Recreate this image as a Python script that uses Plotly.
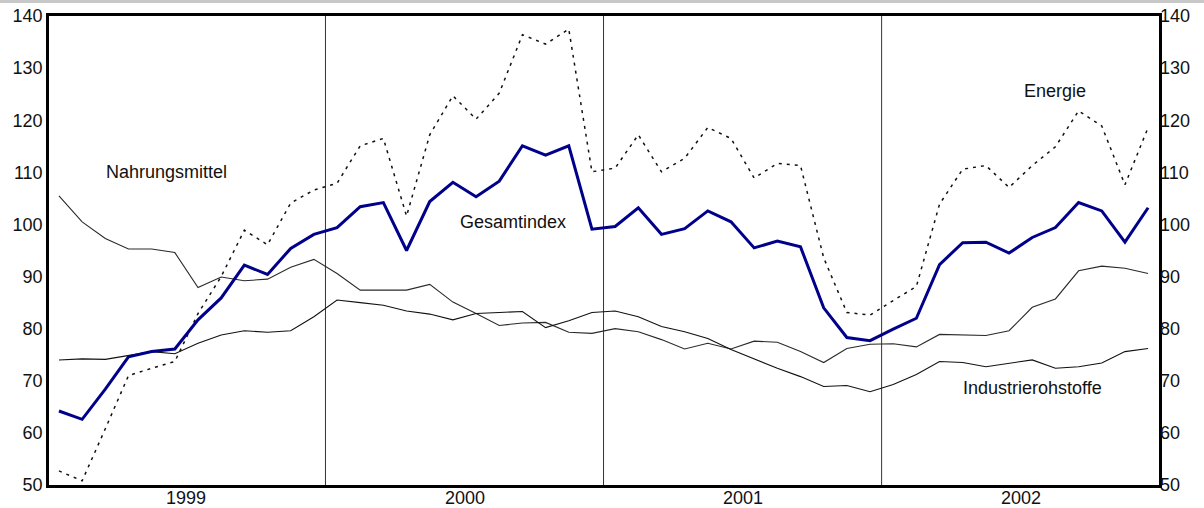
import plotly.graph_objects as go

months = list(range(48))  # Jan 1999 .. Dec 2002, monthly index

gesamtindex = [64.2, 62.6, 68.4, 74.6, 75.6, 76.1, 81.7, 85.9, 92.2, 90.4, 95.4, 98.1,
               99.4, 103.4, 104.2, 95.0, 104.4, 108.1, 105.3, 108.3, 115.1, 113.3, 115.1, 99.1,
               99.6, 103.2, 98.1, 99.2, 102.6, 100.5, 95.5, 96.8, 95.7, 84.0, 78.3, 77.7,
               79.9, 82.0, 92.3, 96.5, 96.6, 94.5, 97.5, 99.4, 104.2, 102.6, 96.6, 103.2]

energie = [52.7, 50.8, 60.8, 71.0, 72.4, 73.7, 82.9, 90.0, 98.9, 96.1, 104.1, 106.6,
           107.9, 115.1, 116.5, 101.6, 117.2, 124.7, 120.2, 125.2, 136.4, 134.6, 137.5, 110.1,
           110.8, 117.2, 110.1, 112.7, 118.6, 116.5, 108.9, 111.7, 111.3, 93.6, 83.1, 82.6,
           85.4, 88.1, 103.9, 110.6, 111.3, 107.1, 111.3, 114.9, 121.8, 118.9, 107.6, 118.6]

nahrungsmittel = [105.5, 100.5, 97.3, 95.3, 95.3, 94.6, 87.9, 89.9, 89.2, 89.5, 91.8, 93.3,
                  90.6, 87.4, 87.4, 87.4, 88.5, 85.1, 82.9, 80.6, 81.1, 81.2, 79.3, 79.1,
                  80.0, 79.4, 77.9, 76.1, 77.2, 76.1, 77.6, 77.4, 75.6, 73.5, 76.2, 77.0,
                  77.1, 76.5, 78.9, 78.8, 78.7, 79.6, 84.1, 85.7, 91.1, 92.0, 91.6, 90.6]

industrierohstoffe = [74.0, 74.2, 74.1, 74.8, 75.6, 75.2, 77.2, 78.8, 79.6, 79.3, 79.6, 82.3,
                      85.5, 85.0, 84.5, 83.4, 82.8, 81.7, 82.9, 83.1, 83.3, 80.2, 81.5, 83.1,
                      83.4, 82.3, 80.4, 79.4, 78.1, 76.0, 74.2, 72.4, 70.8, 68.9, 69.1, 67.9,
                      69.3, 71.2, 73.7, 73.5, 72.7, 73.4, 74.0, 72.4, 72.7, 73.4, 75.6, 76.2]

year_labels = ["1999", "2000", "2001", "2002"]
year_centers = [5.5, 17.5, 29.5, 41.5]
year_bounds = [11.5, 23.5, 35.5]
y_ticks = list(range(50, 141, 10))

FONT = "Liberation Sans, Arial, Helvetica, sans-serif"
FS = 18

fig = go.Figure()

fig.add_trace(go.Scatter(x=months, y=nahrungsmittel, mode="lines",
                         line=dict(color="#2a2a2a", width=1.1), showlegend=False))
fig.add_trace(go.Scatter(x=months, y=industrierohstoffe, mode="lines",
                         line=dict(color="#111111", width=1.1), showlegend=False))
fig.add_trace(go.Scatter(x=months, y=energie, mode="lines",
                         line=dict(color="#111111", width=1.5, dash="3px,5px"), showlegend=False))
fig.add_trace(go.Scatter(x=months, y=gesamtindex, mode="lines",
                         line=dict(color="#00008b", width=3), showlegend=False))
# invisible trace to activate right axis
fig.add_trace(go.Scatter(x=[months[0]], y=[gesamtindex[0]], yaxis="y2", mode="markers",
                         marker=dict(opacity=0), showlegend=False, hoverinfo="skip"))

for b in year_bounds:
    fig.add_shape(type="line", x0=b, x1=b, y0=50, y1=140, xref="x", yref="y",
                  line=dict(color="#333333", width=1), layer="below")

# light gray rule at very top of the image
fig.add_shape(type="line", x0=-0.05, x1=1.05, y0=1.031, y1=1.031, xref="paper", yref="paper",
              line=dict(color="#c8c8c8", width=3))

annots = [
    ("Nahrungsmittel", 4.62, 110.1),
    ("Gesamtindex", 19.6, 100.5),
    ("Energie", 43.0, 125.6),
    ("Industrierohstoffe", 42.0, 68.6),
]
for txt, ax, ay in annots:
    fig.add_annotation(x=ax, y=ay, text=txt, showarrow=False,
                       font=dict(family=FONT, size=FS, color="#111111"))

# year labels below the x axis
for lab, xc in zip(year_labels, year_centers):
    fig.add_annotation(x=xc, y=-0.0267, xref="x", yref="paper", text=lab, showarrow=False,
                       yanchor="middle", xanchor="center",
                       font=dict(family=FONT, size=FS, color="#111111"))

fig.update_layout(
    width=1204, height=508,
    margin=dict(l=49, r=45, t=16, b=23, autoexpand=False),
    paper_bgcolor="white", plot_bgcolor="white",
    font=dict(family=FONT, size=FS, color="#111111"),
    xaxis=dict(range=[-0.43, 47.47], showticklabels=False, ticks="", showgrid=False,
               zeroline=False, showline=True, linecolor="black", linewidth=2.5, mirror=True,
               automargin=False),
    yaxis=dict(range=[50, 140], tickmode="array", tickvals=y_ticks, ticks="",
               showgrid=False, zeroline=False, showline=True, linecolor="black",
               linewidth=2.5, mirror=True, tickfont=dict(size=FS), automargin=False),
    yaxis2=dict(range=[50, 140], overlaying="y", side="right", tickmode="array",
                tickvals=y_ticks, ticks="", showgrid=False, zeroline=False,
                showline=False, tickfont=dict(size=FS), automargin=False),
)

fig.write_html("out.html", config={"displayModeBar": False},
               post_script="document.body.style.margin='0';")
